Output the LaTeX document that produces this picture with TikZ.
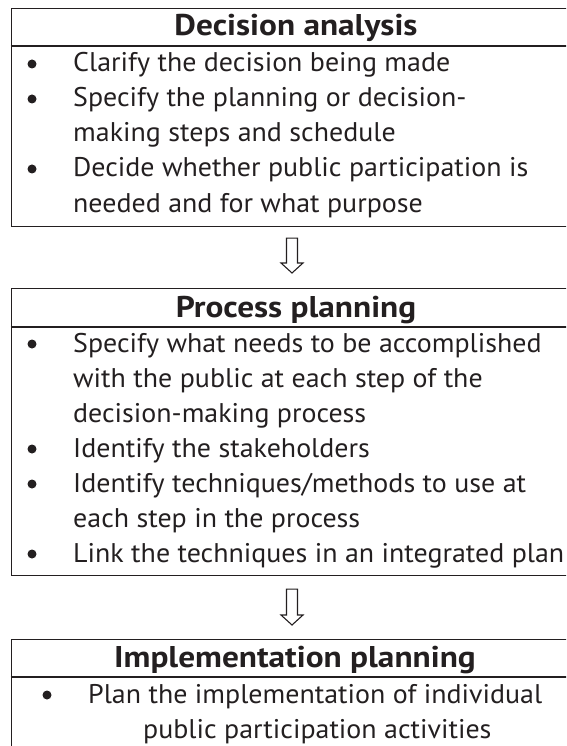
\documentclass[tikz,border=0pt]{standalone}
\usepackage{fontspec}
\setmainfont{PT Sans}[FakeStretch=1.035, BoldFeatures={FakeStretch=1.11}]
\usetikzlibrary{calc}
\definecolor{txt}{HTML}{231F20}
\newcommand\hollowarrow[2]{%
  \draw[hollow] let \p1=(#1), \p2=(#2) in
    (\x1-5.5pt,\y1) -- (\x1-5.5pt,\y2+10pt) -- (\x1-11pt,\y2+10pt) -- (\x1,\y2)
    -- (\x1+11pt,\y2+10pt) -- (\x1+5.5pt,\y2+10pt) -- (\x1+5.5pt,\y1) -- cycle;}
\begin{document}
\begin{tikzpicture}[x=1pt,y=-1pt,
  frame/.style={draw=txt, line width=1.1pt, rectangle, inner sep=0, anchor=north west, minimum width=620pt},
  rule/.style={draw=txt, line width=1.1pt},
  title/.style={font=\fontsize{30}{34}\selectfont\bfseries, text=txt, anchor=base, inner sep=0},
  item/.style={font=\fontsize{27}{35}\selectfont, text=txt, anchor=base west, inner sep=0},
  dot/.style={circle, fill=txt, inner sep=0, minimum size=9pt},
  hollow/.style={draw=txt, line width=1.1pt, fill=white, line join=miter}]
\useasboundingbox (0,0) rectangle (566,746);
\clip (0,0) rectangle (566,746);
% boxes
\node[frame, minimum height=218pt] (box1) at (10.5,8) {};
\node[frame, minimum height=287pt] (box2) at (10.5,288) {};
\node[frame, minimum height=140pt] (box3) at (10.5,639) {};
\draw[rule] (10.5,46) -- (640,46);
\draw[rule] (10.5,327) -- (640,327);
\draw[rule] (10.5,677) -- (640,677);
% box 1
\node[title] (t1) at (296,36) {Decision analysis};
\node[dot] (d11) at (32,64) {};
\node[item] (l11) at (73,72) {Clarify the decision being made};
\node[dot] (d12) at (32,99) {};
\node[item] (l12) at (73,107) {Specify the planning or decision-};
\node[item] (l13) at (73,142) {making steps and schedule};
\node[dot] (d13) at (32,169) {};
\node[item] (l14) at (73,177) {Decide whether public participation is};
\node[item] (l15) at (73,212) {needed and for what purpose};
% box 2
\node[title] (t2) at (296,317) {Process planning};
\node[dot] (d21) at (32,344) {};
\node[item] (l21) at (73,352) {Specify what needs to be accomplished};
\node[item] (l22) at (73,387) {with the public at each step of the};
\node[item] (l23) at (73,422) {decision-making process};
\node[dot] (d22) at (32,449) {};
\node[item] (l24) at (73,457) {Identify the stakeholders};
\node[dot] (d23) at (32,484) {};
\node[item] (l25) at (73,492) {Identify techniques/methods to use at};
\node[item] (l26) at (73,527) {each step in the process};
\node[dot] (d24) at (32,554) {};
\node[item] (l27) at (73,562) {Link the techniques in an integrated plan};
% box 3
\node[title] (t3) at (295,667) {Implementation planning};
\node[dot] (d31) at (47,695) {};
\node[item] (l31) at (88,703) {Plan the implementation of individual};
\node[item] (l32) at (143,738) {public participation activities};
% arrows
\coordinate (a1s) at ($(box1.south west)+(281.5,11)$);
\coordinate (a1e) at ($(box2.north west)+(281.5,-15)$);
\coordinate (a2s) at ($(box2.south west)+(281.5,13)$);
\coordinate (a2e) at ($(box3.north west)+(281.5,-14)$);
\hollowarrow{a1s}{a1e}
\hollowarrow{a2s}{a2e}
\end{tikzpicture}
\end{document}
